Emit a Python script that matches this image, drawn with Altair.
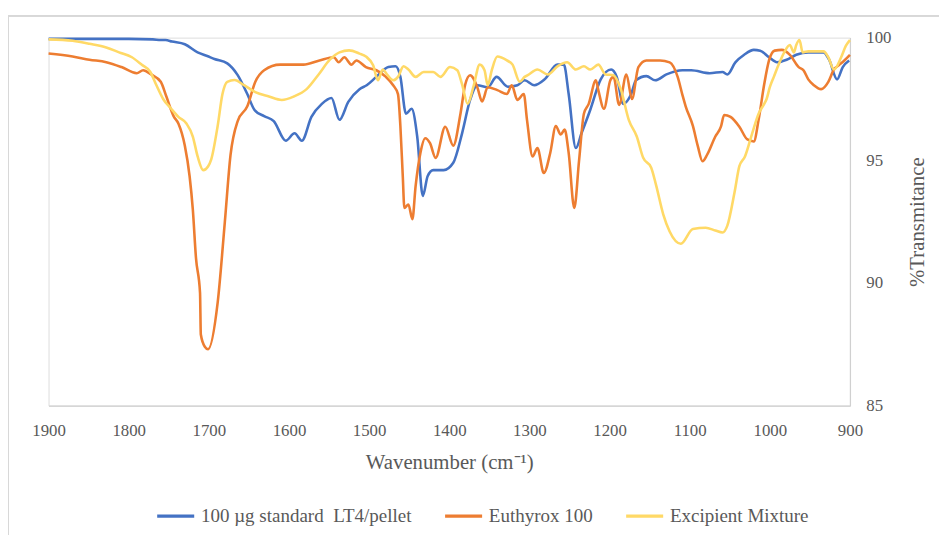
import altair as alt
import pandas as pd

series_names = ["100 µg standard\u00a0 LT4/pellet", "Euthyrox 100", "Excipient Mixture"]
series_colors = ["#4472C4", "#ED7D31", "#FFD966"]

blue_wn = [1900, 1850, 1800, 1770, 1760, 1754, 1746, 1730, 1714, 1702, 1693, 1677, 1664, 1652, 1643, 1631,
           1619, 1604, 1593, 1584, 1572, 1559, 1547, 1537, 1526, 1512, 1503, 1491, 1476, 1467, 1461, 1454,
           1447, 1440, 1433, 1427, 1420, 1407, 1395, 1384, 1374, 1365, 1352, 1341, 1327, 1315, 1306, 1294,
           1281, 1265, 1257, 1251, 1242, 1235, 1224, 1211, 1198, 1191, 1183, 1173, 1167, 1154, 1143, 1129,
           1109, 1098, 1075, 1059, 1053, 1043, 1032, 1020, 1012, 1001, 991, 979, 967, 952, 933, 926, 916,
           909, 901]
blue_t = [99.95, 99.95, 99.95, 99.93, 99.9, 99.9, 99.84, 99.73, 99.4, 99.25, 99.13, 98.95, 98.47, 97.7, 97.05,
          96.8, 96.6, 95.8, 96.1, 95.8, 96.77, 97.3, 97.54, 96.65, 97.38, 97.9, 98.06, 98.4, 98.8, 98.83, 98.4,
          96.9, 97.1, 95.97, 93.55, 94.35, 94.6, 94.6, 94.9, 96.1, 97.46, 98.06, 97.98, 98.4, 98.0, 98.06, 98.26,
          98.06, 98.3, 98.9, 98.9, 97.7, 95.5, 96.1, 97.06, 98.3, 98.7, 98.4, 97.3, 97.7, 98.26, 98.43, 98.26,
          98.5, 98.67, 98.67, 98.55, 98.6, 98.5, 98.99, 99.3, 99.5, 99.47, 99.2, 99.0, 99.1, 99.3, 99.4, 99.4,
          99.1, 98.3, 98.8, 99.07]

orange_wn = [1900, 1870, 1849, 1828, 1809, 1790, 1782, 1772, 1760, 1753, 1744, 1738, 1730, 1724, 1720, 1716,
             1711, 1710, 1705, 1701, 1689, 1680, 1673, 1664, 1652, 1642, 1631, 1611, 1582, 1562, 1544, 1538,
             1531, 1522, 1516, 1504, 1491, 1479, 1470, 1464, 1461, 1458, 1456, 1451, 1446, 1442, 1436, 1430,
             1424, 1417, 1405, 1395, 1386, 1380, 1374, 1365, 1359, 1352, 1340, 1328, 1322, 1315, 1307, 1303,
             1296, 1290, 1282, 1274, 1267, 1261, 1256, 1251, 1244, 1238, 1232, 1226, 1217, 1214, 1207, 1199,
             1195, 1188, 1179, 1172, 1164, 1154, 1137, 1125, 1115, 1109, 1105, 1096, 1090, 1084, 1078, 1068,
             1061, 1057, 1049, 1038, 1028, 1020, 1014, 1007, 1001, 994, 985, 975, 964, 958, 952, 945, 936,
             927, 920, 914, 907, 900]
orange_t = [99.35, 99.23, 99.1, 99.0, 98.8, 98.55, 98.67, 98.5, 98.2, 97.6, 96.8, 96.5, 95.6, 94.35, 93.0, 91.0,
            89.6, 87.9, 87.4, 87.3, 89.2, 92.5, 95.2, 96.6, 97.2, 98.2, 98.67, 98.9, 98.9, 99.07, 99.2, 99.0,
            99.2, 98.9, 99.07, 98.8, 98.67, 98.4, 98.06, 97.7, 96.4, 94.35, 93.06, 93.2, 92.6, 93.95, 95.3, 95.9,
            95.7, 95.1, 96.37, 95.6, 96.9, 98.1, 98.47, 97.98, 97.4, 97.98, 97.86, 97.7, 98.06, 97.46, 97.7, 96.65,
            95.16, 95.5, 94.48, 95.3, 96.4, 96.05, 96.25, 95.3, 93.06, 95.0, 96.9, 97.3, 98.26, 97.86, 97.1, 98.26,
            98.4, 97.26, 98.5, 97.5, 98.8, 99.07, 99.07, 98.99, 98.4, 97.66, 97.2, 96.4, 95.6, 94.96, 95.24, 95.97,
            96.37, 96.85, 96.77, 96.37, 95.85, 95.77, 96.65, 98.1, 99.07, 99.47, 99.5, 99.3, 98.8, 98.67, 98.3,
            98.06, 97.9, 98.2, 98.7, 98.87, 99.07, 99.3]

yellow_wn = [1900, 1870, 1849, 1828, 1812, 1796, 1784, 1773, 1766, 1757, 1747, 1738, 1728, 1720, 1714, 1707,
             1701, 1697, 1689, 1683, 1677, 1668, 1656, 1642, 1625, 1609, 1594, 1578, 1563, 1549, 1537, 1525,
             1512, 1504, 1495, 1489, 1483, 1477, 1470, 1464, 1457, 1451, 1442, 1432, 1420, 1411, 1399, 1390,
             1384, 1377, 1370, 1362, 1356, 1352, 1347, 1340, 1328, 1321, 1312, 1306, 1302, 1290, 1277, 1265,
             1253, 1242, 1232, 1224, 1214, 1205, 1195, 1186, 1176, 1166, 1158, 1148, 1142, 1133, 1125, 1111,
             1096, 1080, 1068, 1059, 1053, 1044, 1038, 1031, 1022, 1014, 1007, 1004, 1000, 995, 989, 982, 975,
             970, 967, 963, 959, 952, 933, 927, 920, 911, 905, 900]
yellow_t = [99.93, 99.87, 99.75, 99.6, 99.4, 99.2, 98.9, 98.6, 98.1, 97.5, 97.1, 96.77, 96.5, 95.97, 95.16, 94.6,
            94.75, 95.04, 96.4, 97.7, 98.2, 98.27, 98.06, 97.78, 97.6, 97.46, 97.6, 97.9, 98.5, 99.1, 99.4, 99.48,
            99.35, 99.23, 98.87, 98.26, 98.7, 98.47, 98.26, 98.4, 98.83, 98.7, 98.4, 98.6, 98.6, 98.4, 98.8, 98.67,
            98.1, 97.3, 97.98, 98.9, 98.67, 98.06, 98.67, 99.23, 99.07, 98.9, 98.2, 98.4, 98.47, 98.7, 98.5, 98.83,
            99.0, 98.7, 98.83, 98.7, 98.9, 98.5, 98.47, 97.9, 96.65, 95.97, 95.1, 94.7, 94.0, 92.8, 92.1, 91.6,
            92.2, 92.25, 92.14, 92.06, 92.34, 93.7, 94.76, 95.16, 96.1, 96.9, 97.3, 97.5, 97.98, 98.4, 98.9, 99.4, 99.7,
            99.4, 99.7, 99.9, 99.4, 99.44, 99.44, 99.2, 98.7, 99.2, 99.67, 99.9]

x_ticks = [1900, 1800, 1700, 1600, 1500, 1400, 1300, 1200, 1100, 1000, 900]
y_ticks = [85, 90, 95, 100]

rows = []
for name, wn, t in zip(series_names, [blue_wn, orange_wn, yellow_wn], [blue_t, orange_t, yellow_t]):
    for i, (w, v) in enumerate(zip(wn, t)):
        rows.append({"series": name, "wn": w, "T": v, "order": i})
df = pd.DataFrame(rows)

FONT = "Liberation Serif"
GRAY = "#595959"

lines = alt.Chart(df).mark_line(strokeWidth=2.6, interpolate="monotone").encode(
    x=alt.X("wn:Q",
            scale=alt.Scale(domain=[900, 1900], reverse=True, nice=False, zero=False),
            axis=alt.Axis(values=x_ticks, title="Wavenumber (cm\u207b\u00b9)", ticks=False, grid=False,
                          labelFont=FONT, labelFontSize=17, labelColor=GRAY, labelPadding=17,
                          labelFlush=False, labelOverlap=False,
                          titleFont=FONT, titleFontSize=21, titleColor=GRAY, titleFontWeight="normal",
                          titlePadding=13, domainColor="#d0d0d0", domainWidth=1.2, format="d")),
    y=alt.Y("T:Q",
            scale=alt.Scale(domain=[85, 100], nice=False, zero=False),
            axis=alt.Axis(orient="right", values=y_ticks, title="%Transmitance", ticks=False, grid=False,
                          labelFont=FONT, labelFontSize=17, labelColor=GRAY, labelPadding=16,
                          labelFlush=False, labelOverlap=False,
                          titleFont=FONT, titleFontSize=21, titleColor=GRAY, titleFontWeight="normal",
                          titleAngle=270, titlePadding=37, domainColor="#d0d0d0", domainWidth=1.2)),
    color=alt.Color("series:N",
                    scale=alt.Scale(domain=series_names, range=series_colors),
                    legend=alt.Legend(title=None, orient="none", legendX=108, legendY=463,
                                      direction="horizontal", symbolType="stroke", symbolSize=1400,
                                      symbolStrokeWidth=3.5, labelFont=FONT, labelFontSize=19.2,
                                      labelColor=GRAY, columnPadding=26, labelOffset=5, labelLimit=0)),
    order="order:Q",
)

border_top = alt.Chart(df).mark_rule(color="#d9d9d9", strokeWidth=1).encode(
    x=alt.value(-40.5), x2=alt.value(1000), y=alt.value(-21.5))
border_left = alt.Chart(df).mark_rule(color="#d9d9d9", strokeWidth=1).encode(
    x=alt.value(-40.5), y=alt.value(-21.5), y2=alt.value(700))

chart = alt.layer(border_top, border_left, lines).properties(
    width=810, height=372,
    autosize=alt.AutoSizeParams(type="none"),
    padding={"left": 41, "top": 27, "right": 90, "bottom": 150},
).configure_view(stroke=None).configure(background="white")

chart.save("out.html", embed_options={"renderer": "svg", "actions": False})
